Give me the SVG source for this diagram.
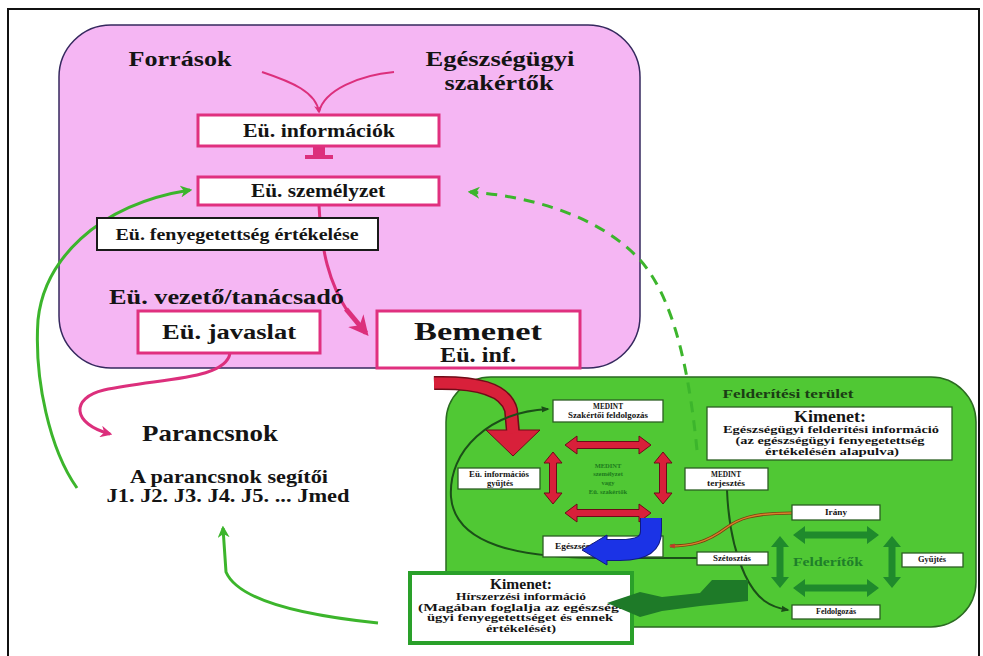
<svg xmlns="http://www.w3.org/2000/svg" width="983" height="656" viewBox="0 0 983 656">
<defs>
<style>
text{font-family:"Liberation Serif","Times New Roman",serif;font-weight:bold;fill:#141414;}
.c{text-anchor:middle;}
.pbox{fill:#fff;stroke:#e0307f;stroke-width:3;}
.bbox{fill:#fff;stroke:#1a1a1a;stroke-width:2;}
.wbox{fill:#fff;stroke:#2c5e22;stroke-width:1.3;}
.s{font-size:7.5px;}
.pink{fill:none;stroke:#dc2f7c;}
.grn{fill:none;stroke:#3cb52c;stroke-width:3;}
.dk{fill:none;stroke:#1b4f18;stroke-width:2;}
.red{fill:#d8203a;stroke:#6e0c18;stroke-width:1;}
.dg{fill:#1f8a2c;}
</style>
<marker id="mp" viewBox="0 0 10 10" refX="8" refY="5" markerWidth="4" markerHeight="4" orient="auto" markerUnits="strokeWidth"><path d="M0,0 L10,5 L0,10 L3,5 Z" fill="#dc2f7c"/></marker>
<marker id="mg" viewBox="0 0 10 10" refX="8" refY="5" markerWidth="4" markerHeight="4" orient="auto" markerUnits="strokeWidth"><path d="M0,0 L10,5 L0,10 L3,5 Z" fill="#3cb52c"/></marker>
<marker id="md" viewBox="0 0 10 10" refX="8" refY="5" markerWidth="4" markerHeight="4" orient="auto" markerUnits="strokeWidth"><path d="M0,1 L10,5 L0,9 Z" fill="#1b4f18"/></marker>
<marker id="mb" viewBox="0 0 10 10" refX="8" refY="5" markerWidth="4" markerHeight="4" orient="auto" markerUnits="strokeWidth"><path d="M0,1 L10,5 L0,9 Z" fill="#c0392b"/></marker>
<!-- double-headed block arrows, centred on the origin -->
<path id="dh" d="M-43,0 L-31,-9 L-31,-3.5 L31,-3.5 L31,-9 L43,0 L31,9 L31,3.5 L-31,3.5 L-31,9 Z"/>
<path id="dv" d="M0,-26 L-9,-15 L-3.5,-15 L-3.5,15 L-9,15 L0,26 L9,15 L3.5,15 L3.5,-15 L9,-15 Z"/>
</defs>

<rect width="983" height="656" fill="#fff"/>
<path d="M8,656 V9 H979 V656" fill="none" stroke="#111" stroke-width="2"/>

<!-- health-service area -->
<rect id="eu-area" x="59" y="25" width="581" height="343" rx="52" fill="#f5b6f3" stroke="#35285e" stroke-width="1.5"/>

<!-- reconnaissance area -->
<rect id="felderitesi-terulet" x="446" y="377" width="530" height="250" rx="45" fill="#50c834" stroke="#2a6a20" stroke-width="1.5"/>
<text x="788" y="398" class="c" font-size="12" textLength="131" lengthAdjust="spacingAndGlyphs" style="fill:#1b3d14">Felderítési terület</text>

<g id="connectors">
  <!-- sources converging -->
  <path class="pink" stroke-width="2" d="M262,72 C292,82 316,92 319,112" marker-end="url(#mp)"/>
  <path class="pink" stroke-width="2" d="M394,72 C360,75 324,90 319,112"/>
  <!-- information -> personnel block arrow -->
  <rect x="313" y="146" width="12" height="10" fill="#dc2f7c"/>
  <rect x="305" y="155" width="28" height="4" fill="#dc2f7c"/>
  <!-- personnel -> input -->
  <path class="pink" stroke-width="3" d="M319,205 C321,250 329,283 348,312"/>
  <path class="pink" stroke-width="5" d="M346,309 L366,333" marker-end="url(#mp)"/>
  <!-- proposal -> commander -->
  <path class="pink" stroke-width="3" d="M230,353 C226,380 160,378 104,390 C70,398 72,424 110,434" marker-end="url(#mp)"/>
  <!-- assistants -> personnel -->
  <path class="grn" d="M77,488 C50,450 34,380 38,320 C44,262 95,205 190,190" marker-end="url(#mg)"/>
  <!-- intelligence output -> assistants -->
  <path class="grn" d="M378,623 C300,615 238,600 226,572 L223,528" marker-end="url(#mg)"/>
  <!-- medical intelligence output -> personnel (dashed) -->
  <path class="grn" stroke-dasharray="11,8" d="M697,450 C690,380 676,300 640,260 C600,216 530,196 470,192" marker-end="url(#mg)"/>
  <!-- input -> reconnaissance area (red curved arrow) -->
  <path d="M434,383 C475,382 505,388 511,410 L513,432" fill="none" stroke="#6e0c18" stroke-width="14"/>
  <polygon points="486,430 540,430 513,456" class="red"/>
  <path d="M434,383 C475,382 505,388 511,410 L513,433" fill="none" stroke="#d8203a" stroke-width="11"/>
  <!-- loop: dissemination -> expert processing -->
  <path class="dk" d="M697,558 L600,558 C520,558 455,545 451,497 C448,450 490,412 548,409" marker-end="url(#md)"/>
  <!-- dissemination -> processing -->
  <path class="dk" d="M727,490 C728,515 731,545 745,575 C757,600 770,607 788,610" marker-end="url(#md)"/>
  <!-- direction -> medical reconnaissance -->
  <path fill="none" stroke="#7a3e10" stroke-width="3" d="M792,513 C752,513 738,519 726,528 C706,543 690,546 670,546"/>
  <path fill="none" stroke="#d9822b" stroke-width="1.5" d="M792,513 C752,513 738,519 726,528 C706,543 690,546 670,546" marker-end="url(#mb)"/>
</g>

<!-- red exchange arrows -->
<g id="medint-kor">
  <use href="#dh" x="608" y="445" class="red"/>
  <use href="#dh" x="608" y="513" class="red"/>
  <use href="#dv" x="553" y="478" class="red"/>
  <use href="#dv" x="663" y="478" class="red"/>
  <text x="608" y="468" class="c" font-size="6.5" style="fill:#1d7a1d">MEDINT</text>
  <text x="608" y="476" class="c" font-size="6.5" style="fill:#1d7a1d">személyzet</text>
  <text x="608" y="485" class="c" font-size="6.5" style="fill:#1d7a1d">vagy</text>
  <text x="608" y="494" class="c" font-size="6.5" style="fill:#1d7a1d">Eü. szakértők</text>
</g>

<!-- scout cycle arrows -->
<g id="felderitok">
  <use href="#dh" x="836" y="535" class="dg"/>
  <use href="#dh" x="836" y="588" class="dg"/>
  <use href="#dv" x="780" y="562" class="dg"/>
  <use href="#dv" x="892" y="562" class="dg"/>
  <text x="828" y="566" class="c" font-size="13" textLength="70" lengthAdjust="spacingAndGlyphs" style="fill:#1f7f2a">Felderítők</text>
</g>

<!-- source labels -->
<g id="forrasok"><text x="180" y="66" class="c" font-size="21" textLength="103" lengthAdjust="spacingAndGlyphs">Források</text></g>
<g id="szakertok">
  <text x="500" y="66" class="c" font-size="21" textLength="149" lengthAdjust="spacingAndGlyphs">Egészségügyi</text>
  <text x="499" y="90" class="c" font-size="21" textLength="109" lengthAdjust="spacingAndGlyphs">szakértők</text>
</g>

<g id="eu-informaciok">
  <rect x="198" y="115" width="241" height="31" class="pbox"/>
  <text x="319" y="137" class="c" font-size="18" textLength="152" lengthAdjust="spacingAndGlyphs">Eü. információk</text>
</g>
<g id="eu-szemelyzet">
  <rect x="198" y="177" width="241" height="28" class="pbox"/>
  <text x="318" y="197" class="c" font-size="18" textLength="134" lengthAdjust="spacingAndGlyphs">Eü. személyzet</text>
</g>
<g id="eu-fenyegetettseg">
  <rect x="97" y="218" width="281" height="32" class="bbox"/>
  <text x="237" y="240" class="c" font-size="16" textLength="243" lengthAdjust="spacingAndGlyphs">Eü. fenyegetettség értékelése</text>
</g>
<g id="eu-vezeto">
  <text x="109" y="304" font-size="21" textLength="235" lengthAdjust="spacingAndGlyphs">Eü. vezető/tanácsadó</text>
</g>
<g id="eu-javaslat">
  <rect x="138" y="311" width="182" height="42" class="pbox" stroke-width="3.5"/>
  <text x="229" y="339" class="c" font-size="20" textLength="134" lengthAdjust="spacingAndGlyphs">Eü. javaslat</text>
</g>
<g id="bemenet">
  <rect x="377" y="311" width="203" height="57" class="pbox" stroke-width="3.5"/>
  <text x="478" y="340" class="c" font-size="25" textLength="128" lengthAdjust="spacingAndGlyphs">Bemenet</text>
  <text x="478" y="362" class="c" font-size="21" textLength="76" lengthAdjust="spacingAndGlyphs">Eü. inf.</text>
</g>

<g id="parancsnok">
  <text x="142" y="441" font-size="24" textLength="136" lengthAdjust="spacingAndGlyphs">Parancsnok</text>
</g>
<g id="segitok">
  <text x="229" y="483" class="c" font-size="18" textLength="198" lengthAdjust="spacingAndGlyphs">A parancsnok segítői</text>
  <text x="228" y="502" class="c" font-size="18" textLength="243" lengthAdjust="spacingAndGlyphs">J1. J2. J3. J4. J5. ... Jmed</text>
</g>

<!-- reconnaissance area nodes -->
<g id="kimenet-egeszsegugyi">
  <rect x="707" y="407" width="245" height="53" class="wbox"/>
  <text x="830" y="422" class="c" font-size="16" textLength="72" lengthAdjust="spacingAndGlyphs">Kimenet:</text>
  <text x="831" y="433" class="c" font-size="10.5" textLength="216" lengthAdjust="spacingAndGlyphs">Egészségügyi felderítési információ</text>
  <text x="830" y="444" class="c" font-size="10.5" textLength="189" lengthAdjust="spacingAndGlyphs">(az egészségügyi fenyegetettség</text>
  <text x="832" y="455" class="c" font-size="10.5" textLength="134" lengthAdjust="spacingAndGlyphs">értékelésén alapulva)</text>
</g>
<g id="medint-szakertoi">
  <rect x="553" y="400" width="110" height="22" class="wbox"/>
  <text x="608" y="409" class="c s" textLength="30" lengthAdjust="spacingAndGlyphs">MEDINT</text>
  <text x="608" y="418" class="c s" textLength="80" lengthAdjust="spacingAndGlyphs">Szakértői feldolgozás</text>
</g>
<g id="eu-informacios-gyujtes">
  <rect x="458" y="468" width="82" height="21" class="wbox"/>
  <text x="499" y="477" class="c s" textLength="60" lengthAdjust="spacingAndGlyphs">Eü. információs</text>
  <text x="500" y="486" class="c s" textLength="26" lengthAdjust="spacingAndGlyphs">gyűjtés</text>
</g>
<g id="medint-terjesztes">
  <rect x="685" y="468" width="83" height="22" class="wbox"/>
  <text x="726" y="477" class="c s" textLength="30" lengthAdjust="spacingAndGlyphs">MEDINT</text>
  <text x="726" y="486" class="c s" textLength="38" lengthAdjust="spacingAndGlyphs">terjesztés</text>
</g>
<g id="egeszsegugyi-felderites">
  <rect x="543" y="536" width="120" height="21" class="wbox"/>
  <text x="555" y="549" class="s" textLength="92" lengthAdjust="spacingAndGlyphs">Egészségügyi felderítés</text>
</g>
<!-- blue arrow into medical reconnaissance -->
<g id="kek-nyil">
  <path d="M651,518 L651,531 C651,545 640,550 620,550 L605,550" fill="none" stroke="#101a80" stroke-width="22"/>
  <polygon points="607,535 607,565 582,550" fill="#1b33e6" stroke="#101a80" stroke-width="1"/>
  <path d="M651,518 L651,531 C651,545 640,550 620,550 L606,550" fill="none" stroke="#1b33e6" stroke-width="20"/>
</g>
<g id="irany">
  <rect x="792" y="505" width="88" height="15" class="wbox"/>
  <text x="836" y="515" class="c s" textLength="22" lengthAdjust="spacingAndGlyphs">Irány</text>
</g>
<g id="szetosztas">
  <rect x="697" y="552" width="71" height="13" class="wbox"/>
  <text x="732" y="561" class="c s" textLength="38" lengthAdjust="spacingAndGlyphs">Szétosztás</text>
</g>
<g id="gyujtes">
  <rect x="902" y="553" width="61" height="14" class="wbox"/>
  <text x="932" y="562" class="c s" textLength="28" lengthAdjust="spacingAndGlyphs">Gyűjtés</text>
</g>
<g id="feldolgozas">
  <rect x="792" y="605" width="88" height="14" class="wbox"/>
  <text x="836" y="614" class="c s" textLength="40" lengthAdjust="spacingAndGlyphs">Feldolgozás</text>
</g>

<g id="kimenet-hirszerzesi">
  <rect x="410" y="573" width="222" height="70" fill="#fff" stroke="#2aa02a" stroke-width="4"/>
  <text x="521" y="589" class="c" font-size="14" textLength="62" lengthAdjust="spacingAndGlyphs">Kimenet:</text>
  <text x="521" y="600" class="c" font-size="9.5" textLength="130" lengthAdjust="spacingAndGlyphs">Hírszerzési információ</text>
  <text x="521" y="610.5" class="c" font-size="9.5" textLength="206" lengthAdjust="spacingAndGlyphs">(Magában foglalja az egészség-</text>
  <text x="520" y="621" class="c" font-size="9.5" textLength="186" lengthAdjust="spacingAndGlyphs">ügyi fenyegetettséget és ennek</text>
  <text x="521" y="631.5" class="c" font-size="9.5" textLength="70" lengthAdjust="spacingAndGlyphs">értékelését)</text>
</g>
<!-- dark green block arrow towards the intelligence output -->
<polygon id="zold-nyil" points="748,580 748,601 700,606 662,611 640,617 607,603 640,592 662,597 700,593 712,580" fill="#1e7a28"/>
</svg>
